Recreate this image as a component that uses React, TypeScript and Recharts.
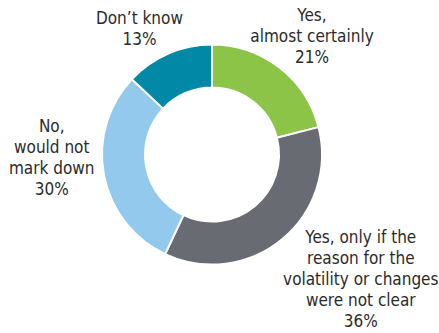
import { Cell, Pie, PieChart } from "recharts";

const answers = [
  ["Yes,", "almost certainly"],
  ["Yes, only if the", "reason for the", "volatility or changes", "were not clear"],
  ["No,", "would not", "mark down"],
  ["Don\u2019t know"],
];
const shares = [21, 36, 30, 13];
const colors = ["#8cc447", "#696b72", "#92c9ec", "#0288a7"];

const data = answers.map((lines, i) => ({ name: lines.join(" "), lines, value: shares[i] }));

// nudges from the default polar spot so the text blocks sit where the original had them
const NUDGE = [
  [5, 4],
  [50, 5],
  [-8, -26],
  [-11, 16],
];

const RAD = Math.PI / 180;

function DonutLabel(props: any) {
  const { cx, cy, midAngle, outerRadius, index, payload } = props;
  const r = outerRadius + 45;
  const x = cx + r * Math.cos(-midAngle * RAD) + NUDGE[index][0];
  const y = cy + r * Math.sin(-midAngle * RAD) + NUDGE[index][1];
  const lines: string[] = [...payload.lines, `${payload.value}%`];
  const lh = 21;
  const top = y - ((lines.length - 1) * lh) / 2;
  return (
    <text
      x={x}
      y={top}
      textAnchor="middle"
      dominantBaseline="central"
      fill="#2b2b2b"
      fontSize={17}
      fontFamily="'DejaVu Sans Condensed', 'Liberation Sans Narrow', sans-serif"
    >
      {lines.map((t, i) => (
        <tspan key={i} x={x} y={top + i * lh}>
          {t}
        </tspan>
      ))}
    </text>
  );
}

export default function App() {
  return (
    <div style={{ position: "absolute", left: 0, top: 0, background: "#fff" }}>
      <PieChart width={439} height={333} margin={{ top: 0, right: 0, bottom: 0, left: 0 }}>
        <Pie
          data={data}
          dataKey="value"
          nameKey="name"
          cx={212}
          cy={154.5}
          innerRadius={67}
          outerRadius={110}
          startAngle={90}
          endAngle={-270}
          stroke="#ffffff"
          strokeWidth={2}
          label={DonutLabel}
          labelLine={false}
          isAnimationActive={false}
        >
          {data.map((d, i) => (
            <Cell key={d.name} fill={colors[i]} />
          ))}
        </Pie>
      </PieChart>
    </div>
  );
}
